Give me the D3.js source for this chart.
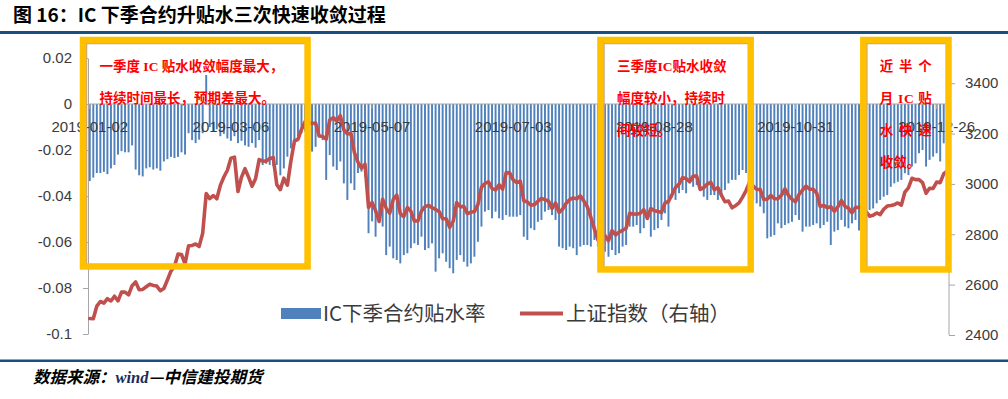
<!DOCTYPE html>
<html><head><meta charset="utf-8">
<script src="https://cdn.jsdelivr.net/npm/d3@7/dist/d3.min.js"></script>
<style>body{margin:0;background:#fff;}svg{display:block;}</style>
</head><body>
<svg id="c" width="1008" height="399"></svg>
<script>
// ---- trading days of 2019 (day numbers by month) ----
const daysJan = [2,3,4,7,8,9,10,11,14,15,16,17,18,21,22,23,24,25,28,29,30,31];
const daysFeb = [1,11,12,13,14,15,18,19,20,21,22,25,26,27,28];
const daysMar = [1,4,5,6,7,8,11,12,13,14,15,18,19,20,21,22,25,26,27,28,29];
const daysApr = [1,2,3,4,8,9,10,11,12,15,16,17,18,19,22,23,24,25,26,29,30];
const daysMay = [6,7,8,9,10,13,14,15,16,17,20,21,22,23,24,27,28,29,30,31];
const daysJun = [3,4,5,6,10,11,12,13,14,17,18,19,20,21,24,25,26,27,28];
const daysJul = [1,2,3,4,5,8,9,10,11,12,15,16,17,18,19,22,23,24,25,26,29,30,31];
const daysAug = [1,2,5,6,7,8,9,12,13,14,15,16,19,20,21,22,23,26,27,28,29,30];
const daysSep = [2,3,4,5,6,9,10,11,12,16,17,18,19,20,23,24,25,26,27,30];
const daysOct = [8,9,10,11,14,15,16,17,18,21,22,23,24,25,28,29,30,31];
const daysNov = [1,4,5,6,7,8,11,12,13,14,15,18,19,20,21,22,25,26,27,28,29];
const daysDec = [2,3,4,5,6,9,10,11,12,13,16,17,18,19,20,23,24,25,26,27,30,31];

// ---- IC next-quarter basis rate (left axis) ----
const basisQ1 = [-0.0335,-0.032,-0.030,-0.030,-0.0295,-0.0305,-0.028,-0.0265,-0.022,-0.0205,-0.021,-0.021,-0.018,
 -0.0285,-0.031,-0.0315,-0.028,-0.0275,-0.0285,-0.028,-0.029,-0.025,-0.024,-0.023,-0.0235,-0.023,-0.021,-0.022,
 -0.0127,-0.0157,-0.017,-0.0155,-0.0127,0.0126,
 -0.010,-0.012,-0.011,-0.014,-0.013,-0.015,-0.016,-0.014,-0.017,-0.016,-0.018,-0.0186,-0.017,-0.019,-0.0157,
 -0.0265,-0.026,-0.0265,-0.027,-0.0265,-0.031,-0.028];
const basisQ2 = [-0.0229,-0.0193,-0.0178,-0.014,-0.0127,-0.012,-0.015,-0.0207,-0.0186,-0.0127,-0.0157,
 -0.033,-0.0222,-0.0272,-0.0287,-0.025,-0.0345,-0.0417,-0.0345,-0.0374,-0.030,-0.0294,-0.0316,-0.0562,-0.051,-0.0577,
 -0.0475,-0.0533,-0.0657,-0.062,-0.0671,-0.0678,-0.0693,-0.0657,-0.0649,-0.0627,-0.0606,-0.0613,-0.0577,-0.0635,-0.0627,
 -0.0606,-0.0729,-0.0671,-0.0649,-0.0686,-0.0714,-0.0736,-0.0678,-0.0657,-0.0686,-0.0707,-0.0693,-0.0664,
 -0.0599,-0.0533,-0.0468,-0.0461,-0.0497,-0.0468];
const basisQ3 = [-0.0497,-0.0504,-0.0483,-0.049,-0.049,-0.049,-0.0483,-0.0577,-0.0591,-0.054,-0.0548,-0.0512,-0.0504,
 -0.0468,-0.0461,-0.0483,-0.0504,
 -0.062,-0.0627,-0.0635,-0.062,-0.0627,-0.0657,-0.062,-0.0613,-0.0613,-0.062,-0.0591,-0.062,-0.063,-0.0642,-0.0664,
 -0.0635,-0.0657,-0.0649,-0.062,-0.0613,-0.0533,-0.0533,-0.0526,-0.0562,-0.054,-0.0504,-0.0577,-0.0548,-0.054,
 -0.0504,-0.0475,-0.0533,-0.0406,-0.0417,-0.0388,-0.0374,-0.0388,-0.0345,-0.036,-0.0352,-0.0374,-0.0403,-0.0417,
 -0.0396,-0.0396,-0.0417,-0.0403,-0.0374,-0.0345];
const basisQ4 = [-0.033,-0.033,-0.0309,-0.0287,-0.030,-0.040,
 -0.0417,-0.0432,-0.0446,-0.0475,-0.0584,-0.0577,-0.057,-0.0519,-0.054,-0.0526,-0.0519,-0.0512,-0.0483,-0.0504,
 -0.0555,-0.0533,-0.0533,-0.0526,-0.0519,-0.054,-0.0526,-0.0512,-0.0613,-0.0555,-0.0548,-0.0504,-0.0533,-0.054,
 -0.0519,-0.0504,
 -0.055,-0.058,-0.056,-0.0461,-0.0454,-0.0432,-0.0417,-0.0403,-0.0396,-0.036,-0.0345,-0.0338,-0.033,-0.0301,
 -0.0309,-0.0272,-0.0258,-0.0214,-0.02,-0.0272,-0.0243,-0.0229,-0.0214,-0.025,-0.0171,-0.0157];

// ---- SSE Composite close (right axis) ----
const sseJan = [2465.29,2464.36,2514.87,2533.09,2526.46,2544.34,2535.10,2553.83,2535.77,2570.42,2570.34,2559.64,2596.01,2610.51,2579.70,2581.00,2591.69,2601.72,2596.98,2594.25,2575.58,2584.57];
const sseFeb = [2618.23,2653.90,2671.89,2721.07,2719.70,2682.39,2754.36,2755.65,2761.22,2751.80,2804.23,2961.28,2941.52,2953.82,2940.95];
const sseMar = [2994.01,3027.58,3054.25,3102.10,3106.42,2969.86,3026.99,3060.31,3026.95,2990.69,3021.75,3096.42,3090.98,3090.64,3101.46,3104.15,2997.10,2977.33,3022.72,2994.94,3090.76];
const sseApr = [3170.36,3176.82,3216.30,3246.57,3244.81,3239.66,3241.93,3189.96,3188.63,3177.79,3253.60,3263.12,3250.20,3270.80,3215.04,3198.59,3201.61,3123.83,3086.40,3062.50,3078.34];
const sseMay = [2906.46,2926.39,2893.76,2850.95,2939.21,2903.71,2883.61,2938.68,2955.71,2882.30,2870.60,2905.97,2891.70,2852.52,2852.99,2892.38,2909.91,2914.70,2905.81,2898.70];
const sseJun = [2890.08,2862.28,2861.42,2827.80,2852.13,2925.72,2909.38,2910.74,2881.97,2887.62,2890.16,2917.80,2987.12,3001.98,3008.15,2982.07,2976.28,2996.79,2978.88];
const sseJul = [3044.90,3043.94,3015.26,3005.25,3011.06,2933.36,2928.23,2915.30,2917.76,2930.55,2942.19,2937.62,2931.69,2901.95,2924.20,2886.97,2899.94,2923.28,2937.36,2944.54,2941.01,2952.34,2932.51];
const sseAug = [2908.77,2867.84,2821.50,2777.56,2768.68,2794.55,2774.75,2814.99,2797.26,2808.91,2815.80,2823.82,2883.10,2880.33,2880.00,2883.44,2897.43,2863.57,2902.19,2893.76,2890.92,2886.24];
const sseSep = [2924.11,2930.15,2957.41,2985.86,2999.60,3024.74,3021.20,3008.81,3031.24,3030.75,2978.12,2985.34,2999.28,3006.45,2977.08,2985.34,2955.43,2929.09,2932.17,2905.19];
const sseOct = [2913.57,2924.86,2947.71,2973.66,3007.88,2991.05,2978.71,2977.33,2938.14,2939.62,2954.38,2941.62,2940.92,2954.93,2980.05,2954.18,2939.32,2929.06];
const sseNov = [2958.20,2975.49,2991.56,2978.60,2978.71,2964.18,2909.97,2914.82,2905.24,2909.87,2891.34,2909.20,2933.99,2911.05,2903.64,2885.29,2906.17,2907.06,2903.19,2889.69,2871.98];
const sseDec = [2875.81,2884.70,2878.12,2899.47,2912.01,2914.48,2917.32,2924.42,2915.70,2967.68,2984.39,3022.42,3017.04,3017.07,3004.94,2962.75,2982.68,2981.88,3007.35,3005.04,3040.02,3050.12];

// ---- axes ticks / labels ----
const leftTicks = [0.02, 0, -0.02, -0.04, -0.06, -0.08, -0.1];
const leftTickLabels = ["0.02","0","-0.02","-0.04","-0.06","-0.08","-0.1"];
const rightTicks = [2400, 2600, 2800, 3000, 3200, 3400];
const xLabelEvery = 40;
const seriesNames = ["IC下季合约贴水率", "上证指数（右轴）"];
const title = "图 16：IC 下季合约升贴水三次快速收敛过程";
const sourceParts = ["数据来源：", "wind", "—中信建投期货"];
const notes = [
  {from: "2019-01-02", to: "2019-04-08", lines: ["一季度 IC 贴水收敛幅度最大，", "持续时间最长，预期差最大。"], spread: false},
  {from: "2019-08-07", to: "2019-10-15", lines: ["三季度IC贴水收敛", "幅度较小，持续时", "间较短。"], spread: false},
  {from: "2019-11-27", to: null, lines: ["近 半 个", "月 IC 贴", "水 快 速", "收敛。"], spread: true}
];

// ---- build data ----
const monthDays = [daysJan,daysFeb,daysMar,daysApr,daysMay,daysJun,daysJul,daysAug,daysSep,daysOct,daysNov,daysDec];
const dates = [];
monthDays.forEach((arr, m) => arr.forEach(d => dates.push(`2019-${String(m+1).padStart(2,"0")}-${String(d).padStart(2,"0")}`)));
const basis = basisQ1.concat(basisQ2, basisQ3, basisQ4);
const sse = [].concat(sseJan,sseFeb,sseMar,sseApr,sseMay,sseJun,sseJul,sseAug,sseSep,sseOct,sseNov,sseDec);
const data = dates.map((d, i) => ({date: d, basis: basis[i], sse: sse[i]}));

// ---- drawing ----
const svg = d3.select("#c");
const W = 1008;
const plot = {left: 88, right: 949, top: 58, bottom: 334};
const axisColor = "#a6a6a6";
const textColor = "#3b3b3b";
const font = "'Liberation Sans', Arial, sans-serif";
const cjk = "'Noto Sans CJK SC', 'Noto Sans', sans-serif";

const x = d3.scaleBand().domain(dates).range([plot.left, plot.right]).paddingInner(0.45).paddingOuter(0.225);
const step = x.step();
const yL = d3.scaleLinear().domain([-0.1, 0.02]).range([plot.bottom, plot.top]);
const yR = d3.scaleLinear().domain([2400, 3500]).range([plot.bottom + 1, plot.top]);

// header
svg.append("text").attr("x", 13).attr("y", 21.5).attr("font-family", cjk).attr("font-weight", 700)
  .attr("font-size", 19).attr("fill", "#000").text(title);
svg.append("rect").attr("x", 0).attr("y", 31).attr("width", W).attr("height", 3).attr("fill", "#17507f");
svg.append("rect").attr("x", 0).attr("y", 359.5).attr("width", W).attr("height", 2.5).attr("fill", "#17507f");

// footer
const src = svg.append("text").attr("x", 33).attr("y", 383).attr("font-family", cjk).attr("font-weight", 700)
  .attr("font-style", "italic").attr("font-size", 16.5).attr("fill", "#000");
src.append("tspan").text(sourceParts[0]);
src.append("tspan").attr("fill", "#1c2a5a").attr("font-family", "'Liberation Serif', serif").text(sourceParts[1]);
src.append("tspan").text(sourceParts[2]);

// bars
svg.append("g").selectAll("rect").data(data).join("rect")
  .attr("x", d => x(d.date))
  .attr("width", x.bandwidth())
  .attr("y", d => Math.min(yL(0), yL(d.basis)))
  .attr("height", d => Math.abs(yL(d.basis) - yL(0)))
  .attr("fill", "#4f81bd");

// left axis
const gL = svg.append("g").attr("transform", `translate(${plot.left},0)`)
  .call(d3.axisLeft(yL).tickValues(leftTicks).tickFormat((d, i) => leftTickLabels[i]).tickSize(5).tickSizeOuter(0).tickPadding(11));
// right axis
const gR = svg.append("g").attr("transform", `translate(${plot.right},0)`)
  .call(d3.axisRight(yR).tickValues(rightTicks).tickFormat(d3.format("d")).tickSize(6).tickSizeOuter(0).tickPadding(10));
gR.select(".domain").attr("d", `M0,${yL(0.02)}V${yR(2400)}`);
// x axis at zero
const xTickVals = dates.filter((d, i) => i % xLabelEvery === 0);
const gX = svg.append("g").attr("transform", `translate(0,${yL(0)})`)
  .call(d3.axisBottom(x).tickValues(xTickVals).tickSize(5).tickSizeOuter(0));
gX.select(".domain").attr("d", `M${plot.left},0H${plot.right}`);
gX.selectAll(".tick text").attr("y", 17);

[gL, gR, gX].forEach(g => {
  g.select(".domain").attr("stroke", axisColor);
  g.selectAll(".tick line").attr("stroke", axisColor);
  g.selectAll(".tick text").attr("font-family", font).attr("font-size", 15).attr("fill", textColor);
});

// line
const line = d3.line().x(d => x(d.date) + x.bandwidth() / 2).y(d => yR(d.sse));
svg.append("path").datum(data).attr("d", line).attr("fill", "none")
  .attr("stroke", "#c0504d").attr("stroke-width", 3.6).attr("stroke-linejoin", "round").attr("stroke-linecap", "round");

// legend
const lg = svg.append("g");
lg.append("rect").attr("x", 281).attr("y", 308).attr("width", 40).attr("height", 11).attr("fill", "#4f81bd");
lg.append("text").attr("x", 323).attr("y", 321).attr("font-family", cjk).attr("font-size", 20.5).attr("fill", textColor).text(seriesNames[0]);
lg.append("line").attr("x1", 520).attr("x2", 563).attr("y1", 313.5).attr("y2", 313.5).attr("stroke", "#c0504d").attr("stroke-width", 4);
lg.append("text").attr("x", 566).attr("y", 321).attr("font-family", cjk).attr("font-size", 20.5).attr("fill", textColor).text(seriesNames[1]);

// annotation boxes
const boxTop = plot.top - 18, boxBottom = yL(-0.0715);
notes.forEach((n, k) => {
  const left = k === 0 ? plot.left - 5 : x(n.from) + (k === 2 ? step / 2 : 0);
  const right = n.to ? x(n.to) - (k === 1 ? 1.5 : 0) : plot.right - 0.5;
  const bottom = k === 0 ? boxBottom - 2 : boxBottom + 1;
  const g = svg.append("g");
  g.append("rect").attr("x", left + 3).attr("y", boxTop + 3).attr("width", right - left - 3).attr("height", bottom - boxTop - 3)
    .attr("fill", "none").attr("stroke", "#c9a383").attr("stroke-width", 2.5);
  g.append("rect").attr("x", left).attr("y", boxTop).attr("width", right - left).attr("height", bottom - boxTop)
    .attr("fill", "none").attr("stroke", "#ffc000").attr("stroke-width", 6.5);
  n.lines.forEach((t, j) => {
    const tx = g.append("text").attr("x", left + 16.5).attr("y", boxTop + 30.5 + j * 32.2)
      .attr("font-family", "'Liberation Serif', 'Noto Sans CJK SC', serif").attr("font-weight", 700)
      .attr("font-size", 13.5).attr("fill", "#ff0000").text(t);
    if (n.spread && t.indexOf(" ") >= 0) tx.attr("textLength", 52).attr("lengthAdjust", "spacing");
  });
});
</script>
</body></html>
